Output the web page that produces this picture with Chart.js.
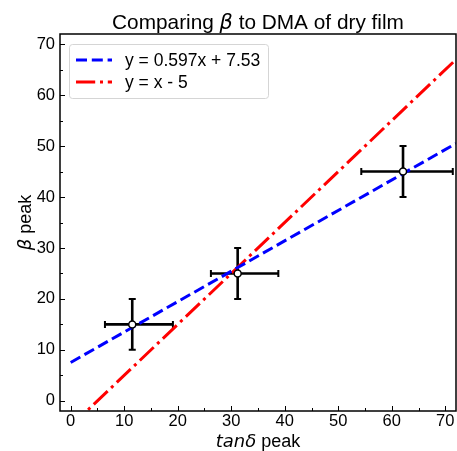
<!DOCTYPE html>
<html>
<head>
<meta charset="utf-8">
<script src="https://cdn.jsdelivr.net/npm/chart.js@4.4.0/dist/chart.umd.min.js"></script>
<style>
  html, body { margin: 0; padding: 0; background: #fff; }
  canvas { display: block; }
</style>
</head>
<body>
<canvas id="chart" width="457" height="451"></canvas>
<script>
// ── Data ──
const pointX   = [11.5, 31.2, 62.1];
const pointY   = [15, 25, 45];
const xErrLow  = [5.1, 5.0, 7.8];   // left arm of the x error bar
const xErrHigh = [7.6, 7.6, 9.3];   // right arm
const yErr     = [5, 5, 5];

// fitted / reference lines, end points only
const fitLabel  = 'y = 0.597x + 7.53';
const fitLineX  = [0, 72];
const fitLineY  = [7.53, 50.51];
const idLabel   = 'y = x - 5';
const idLineX   = [0, 72];
const idLineY   = [-5, 67];

const xTicks = [0, 10, 20, 30, 40, 50, 60, 70];
const yTicks = [0, 10, 20, 30, 40, 50, 60, 70];
const xMinor = [5, 15, 25, 35, 45, 55, 65];
const yMinor = [5, 15, 25, 35, 45, 55, 65];

const SANS = '"Liberation Sans", Arial, sans-serif';
const MATH = '"DejaVu Sans", sans-serif';

const toXY = (xs, ys) => xs.map((x, i) => ({ x: x, y: ys[i] }));

// draws a run of text pieces (some italic) centred on x
function drawRich(ctx, parts, x, y) {
    let total = 0;
    parts.forEach(p => { ctx.font = p.font; p.w = ctx.measureText(p.text).width; total += p.w; });
    let cx = x - total / 2;
    ctx.textAlign = 'left';
    ctx.textBaseline = 'alphabetic';
    parts.forEach(p => { ctx.font = p.font; ctx.fillText(p.text, cx, y); cx += p.w; });
}

// ── Error bars, under the lines ──
const errorBars = {
    id: 'errorBars',
    beforeDatasetsDraw(chart) {
        const { ctx, scales: { x, y } } = chart;
        ctx.save();
        ctx.strokeStyle = '#000';
        pointX.forEach((px, i) => {
            const cx = x.getPixelForValue(px), cy = y.getPixelForValue(pointY[i]);
            const x0 = x.getPixelForValue(px - xErrLow[i]), x1 = x.getPixelForValue(px + xErrHigh[i]);
            const y0 = y.getPixelForValue(pointY[i] - yErr[i]), y1 = y.getPixelForValue(pointY[i] + yErr[i]);
            ctx.lineWidth = 2.6;
            ctx.beginPath();
            ctx.moveTo(x0, cy); ctx.lineTo(x1, cy);
            ctx.moveTo(cx, y0); ctx.lineTo(cx, y1);
            ctx.stroke();
            ctx.lineWidth = 2;
            ctx.beginPath();
            ctx.moveTo(x0, cy - 3.5); ctx.lineTo(x0, cy + 3.5);
            ctx.moveTo(x1, cy - 3.5); ctx.lineTo(x1, cy + 3.5);
            ctx.moveTo(cx - 3.5, y0); ctx.lineTo(cx + 3.5, y0);
            ctx.moveTo(cx - 3.5, y1); ctx.lineTo(cx + 3.5, y1);
            ctx.stroke();
        });
        ctx.restore();
    }
};

// ── Frame, inward ticks, legend and titles ──
const decorations = {
    id: 'decorations',
    afterDraw(chart) {
        const { ctx, chartArea: a, scales: { x, y } } = chart;
        ctx.save();

        // inward tick marks (major 5px, minor 3px)
        ctx.strokeStyle = '#000';
        ctx.lineWidth = 1;
        ctx.beginPath();
        xTicks.forEach(v => { const p = Math.round(x.getPixelForValue(v)) + 0.5; ctx.moveTo(p, a.bottom); ctx.lineTo(p, a.bottom - 5); });
        xMinor.forEach(v => { const p = Math.round(x.getPixelForValue(v)) + 0.5; ctx.moveTo(p, a.bottom); ctx.lineTo(p, a.bottom - 3); });
        yTicks.forEach(v => { const p = Math.round(y.getPixelForValue(v)) + 0.5; ctx.moveTo(a.left, p); ctx.lineTo(a.left + 5, p); });
        yMinor.forEach(v => { const p = Math.round(y.getPixelForValue(v)) + 0.5; ctx.moveTo(a.left, p); ctx.lineTo(a.left + 3, p); });
        ctx.stroke();

        // axes box
        ctx.lineWidth = 1.5;
        ctx.strokeRect(a.left, a.top, a.right - a.left, a.bottom - a.top);

        // legend box in the upper left corner
        const lx = 69.5, ly = 44.5, lw = 199, lh = 54, r = 3;
        ctx.beginPath();
        ctx.moveTo(lx + r, ly);
        ctx.arcTo(lx + lw, ly, lx + lw, ly + lh, r);
        ctx.arcTo(lx + lw, ly + lh, lx, ly + lh, r);
        ctx.arcTo(lx, ly + lh, lx, ly, r);
        ctx.arcTo(lx, ly, lx + lw, ly, r);
        ctx.closePath();
        ctx.fillStyle = 'rgba(255,255,255,0.8)';
        ctx.fill();
        ctx.strokeStyle = '#d5d5d5';
        ctx.lineWidth = 1;
        ctx.stroke();

        const rows = [chart.data.datasets[1], chart.data.datasets[2]];
        rows.forEach((ds, i) => {
            const ry = 60 + i * 22;
            ctx.strokeStyle = ds.borderColor;
            ctx.lineWidth = ds.borderWidth;
            ctx.setLineDash(ds.borderDash);
            ctx.beginPath();
            ctx.moveTo(76, ry); ctx.lineTo(112, ry);
            ctx.stroke();
            ctx.setLineDash([]);
            ctx.fillStyle = '#000';
            ctx.font = '17.5px ' + SANS;
            ctx.textAlign = 'left';
            ctx.textBaseline = 'middle';
            ctx.fillText(ds.label, 125, ry + 1);
        });

        // title and axis titles, with the math parts in italic
        ctx.fillStyle = '#000';
        const midX = (a.left + a.right) / 2;
        drawRich(ctx, [
            { text: 'Comparing ', font: '20.8px ' + SANS },
            { text: 'β', font: 'italic 20.8px ' + MATH },
            { text: ' to DMA of dry film', font: '20.8px ' + SANS }
        ], midX, 28.5);

        drawRich(ctx, [
            { text: 'tanδ', font: 'italic 18px ' + MATH },
            { text: ' peak', font: '18px ' + SANS }
        ], midX, 447);

        ctx.save();
        ctx.translate(31, (a.top + a.bottom) / 2);
        ctx.rotate(-Math.PI / 2);
        drawRich(ctx, [
            { text: 'β', font: 'italic 18px ' + MATH },
            { text: ' peak', font: '18px ' + SANS }
        ], 0, 0);
        ctx.restore();

        ctx.restore();
    }
};

const tickFont = { family: SANS, size: 16.5 };

new Chart(document.getElementById('chart'), {
    type: 'scatter',
    data: {
        datasets: [
            {   // measured points, drawn on top
                label: 'points',
                data: toXY(pointX, pointY),
                pointRadius: 3.5,
                pointBackgroundColor: '#fff',
                pointBorderColor: '#000',
                pointBorderWidth: 1.5,
                showLine: false
            },
            {
                label: fitLabel,
                data: toXY(fitLineX, fitLineY),
                showLine: true,
                borderColor: '#0000ff',
                borderWidth: 3,
                borderDash: [11, 4.8],
                borderCapStyle: 'butt',
                pointRadius: 0,
                clip: 0
            },
            {
                label: idLabel,
                data: toXY(idLineX, idLineY),
                showLine: true,
                borderColor: '#ff0000',
                borderWidth: 3,
                borderDash: [19.2, 4.8, 3, 4.8],
                borderCapStyle: 'butt',
                pointRadius: 0,
                clip: 0
            }
        ]
    },
    options: {
        responsive: false,
        animation: false,
        devicePixelRatio: 1,
        // autoPadding off so the point radius does not shrink the plot area
        layout: { autoPadding: false, padding: { top: 34, right: 1, left: 0, bottom: 0 } },
        plugins: { legend: { display: false }, title: { display: false }, tooltip: { enabled: false } },
        scales: {
            x: {
                type: 'linear', min: -2, max: 72,
                afterBuildTicks: s => { s.ticks = xTicks.map(v => ({ value: v })); },
                afterFit: s => { s.height = 40; s.paddingLeft = 0; s.paddingRight = 0; },
                grid: { display: false, drawTicks: false }, border: { display: false },
                ticks: { color: '#000', font: tickFont, padding: 1, autoSkip: false, maxRotation: 0 }
            },
            y: {
                type: 'linear', min: -2, max: 72,
                afterBuildTicks: s => { s.ticks = yTicks.map(v => ({ value: v })); },
                afterFit: s => { s.width = 60; s.paddingTop = 0; s.paddingBottom = 0; },
                grid: { display: false, drawTicks: false }, border: { display: false },
                ticks: { color: '#000', font: tickFont, padding: 5, autoSkip: false }
            }
        }
    },
    plugins: [errorBars, decorations]
});
</script>
</body>
</html>
